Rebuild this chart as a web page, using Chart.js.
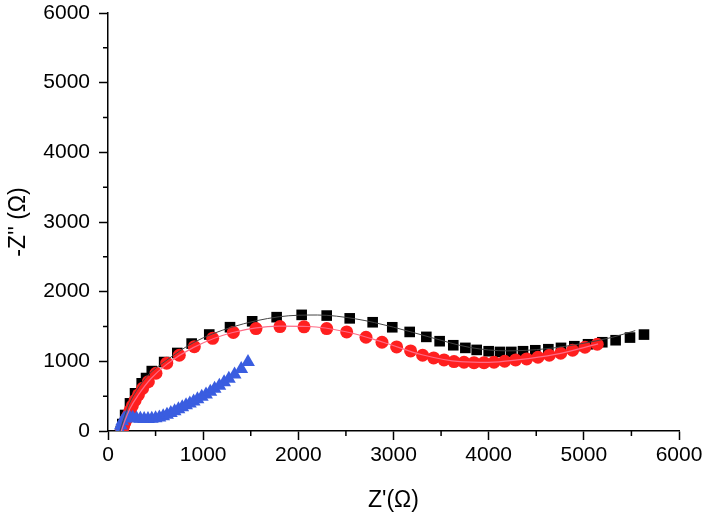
<!DOCTYPE html>
<html>
<head>
<meta charset="utf-8">
<script src="https://cdn.jsdelivr.net/npm/chart.js@4.4.1/dist/chart.umd.min.js"></script>
<style>
  html, body { margin: 0; padding: 0; background: #fff; }
  #wrap { width: 708px; height: 515px; }
</style>
</head>
<body>
<div id="wrap"><canvas id="nyquist"></canvas></div>
<script>
// Messpunkte (Z', -Z'') der drei Proben
var blackX = [135, 150, 180, 231, 284, 354, 400, 460, 590, 728, 879, 1064, 1282, 1515, 1772, 2035, 2298, 2540, 2781, 2987, 3170, 3345, 3485, 3628, 3755, 3874, 4000, 4119, 4238, 4361, 4490, 4627, 4760, 4900, 5044, 5194, 5334, 5485, 5632],
    blackY = [0, 100, 230, 397, 541, 685, 760, 860, 990, 1120, 1255, 1385, 1490, 1575, 1634, 1667, 1657, 1617, 1561, 1489, 1422, 1351, 1289, 1231, 1193, 1164, 1145, 1135, 1135, 1145, 1159, 1174, 1193, 1217, 1245, 1274, 1303, 1341, 1384];

var redX = [145, 155, 165, 178, 192, 210, 230, 255, 285, 320, 364, 424, 504, 617, 749, 907, 1100, 1317, 1555, 1807, 2060, 2298, 2508, 2711, 2879, 3033, 3180, 3306, 3422, 3531, 3636, 3741, 3846, 3951, 4056, 4168, 4283, 4399, 4518, 4637, 4757, 4882, 5012, 5141],
    redY = [0, 40, 80, 125, 170, 220, 290, 360, 440, 520, 613, 708, 829, 973, 1087, 1211, 1330, 1415, 1470, 1499, 1495, 1470, 1422, 1346, 1274, 1207, 1149, 1087, 1049, 1020, 996, 987, 981, 981, 987, 1001, 1020, 1034, 1059, 1087, 1116, 1159, 1202, 1245];

var blueX = [125, 135, 150, 170, 195, 225, 260, 300, 340, 380, 420, 460, 500, 540, 580, 620, 660, 700, 740, 780, 820, 860, 900, 940, 985, 1030, 1075, 1120, 1170, 1220, 1270, 1330, 1400, 1471],
    blueY = [0, 80, 140, 180, 200, 200, 190, 180, 175, 172, 172, 175, 182, 195, 212, 235, 260, 285, 312, 340, 368, 396, 425, 455, 490, 525, 565, 605, 650, 700, 750, 810, 890, 991];

// Fit-Kurven (Ersatzschaltbild)
var blackFitX = [125, 160, 220, 300, 420, 600, 900, 1300, 1800, 2200, 2600, 3000, 3400, 3800, 4200, 4600, 5000, 5300, 5540],
    blackFitY = [0, 150, 380, 580, 800, 1000, 1270, 1490, 1640, 1665, 1610, 1490, 1340, 1200, 1150, 1180, 1260, 1345, 1441];
var redFitX = [140, 170, 230, 320, 450, 620, 900, 1300, 1800, 2100, 2500, 2900, 3300, 3700, 4000, 4300, 4700, 5150],
    redFitY = [0, 120, 320, 520, 750, 960, 1200, 1410, 1505, 1500, 1425, 1270, 1095, 995, 985, 1020, 1100, 1250];

var xTicks = [0, 1000, 2000, 3000, 4000, 5000, 6000],
    yTicks = [0, 1000, 2000, 3000, 4000, 5000, 6000];

function toPoints(xs, ys) {
    var pts = [];
    for (let i = 0; i < xs.length; i++) {
        pts.push({x: xs[i], y: ys[i]});
    }
    return pts;
}

// Kleine Zwischenstriche bei 500, 1500, ... nach außen
var minorTicks = {
    id: "minorTicks",
    afterDraw(chart) {
        var ctx = chart.ctx,
            xs = chart.scales.x,
            ys = chart.scales.y;
        ctx.save();
        ctx.strokeStyle = "#000";
        ctx.lineWidth = 1.5;
        ctx.beginPath();
        for (let v = 500; v < 6000; v += 1000) {
            let px = xs.getPixelForValue(v),
                py = ys.getPixelForValue(v);
            ctx.moveTo(px, xs.top);
            ctx.lineTo(px, xs.top + 5);
            ctx.moveTo(ys.right, py);
            ctx.lineTo(ys.right - 5, py);
        }
        ctx.stroke();
        ctx.restore();
    }
};

var tickFont = {family: "'Liberation Sans', Arial, sans-serif", size: 21};
var titleFont = {family: "'Liberation Sans', Arial, sans-serif", size: 23};

new Chart(document.getElementById("nyquist"), {
    type: "scatter",
    data: {
        datasets: [
            {data: toPoints(blackFitX, blackFitY), showLine: true, borderColor: "#444", borderWidth: 1, pointRadius: 0, cubicInterpolationMode: "monotone", fill: false},
            {data: toPoints(redFitX, redFitY), showLine: true, borderColor: "#ff6a85", borderWidth: 1.2, pointRadius: 0, cubicInterpolationMode: "monotone", fill: false},
            {data: toPoints(blueX, blueY), pointStyle: "triangle", pointRadius: 8, backgroundColor: "#3a5de0", borderColor: "#3a5de0", borderWidth: 0},
            {data: toPoints(redX, redY), pointStyle: "circle", pointRadius: 6.5, backgroundColor: "#ff1f1f", borderColor: "#ff1f1f", borderWidth: 0},
            {data: toPoints(blackX, blackY), pointStyle: "rect", pointRadius: 7.5, backgroundColor: "#000", borderColor: "#000", borderWidth: 0}
        ]
    },
    options: {
        responsive: true,
        maintainAspectRatio: false,
        animation: false,
        layout: {padding: {top: 13, right: 29, left: 0, bottom: 0}},
        plugins: {legend: {display: false}, tooltip: {enabled: false}},
        scales: {
            x: {
                type: "linear",
                min: 0,
                max: 6000,
                afterFit: (s) => { s.height = 84; s.paddingLeft = 0; s.paddingRight = 0; },
                afterBuildTicks: (s) => { s.ticks = xTicks.map((v) => ({value: v})); },
                border: {display: true, color: "#000", width: 1.5},
                grid: {display: true, drawOnChartArea: false, drawTicks: true, tickLength: 9, tickColor: "#000", tickWidth: 1.5},
                ticks: {color: "#000", font: tickFont, padding: 3, maxRotation: 0, callback: (v) => String(v)},
                title: {display: true, text: "Z'(Ω)", color: "#000", font: titleFont, padding: {top: 0, bottom: 1}}
            },
            y: {
                type: "linear",
                min: 0,
                max: 6000,
                afterFit: (s) => { s.width = 108; s.paddingTop = 0; s.paddingBottom = 0; },
                afterBuildTicks: (s) => { s.ticks = yTicks.map((v) => ({value: v})); },
                border: {display: true, color: "#000", width: 1.5},
                grid: {display: true, drawOnChartArea: false, drawTicks: true, tickLength: 9, tickColor: "#000", tickWidth: 1.5},
                ticks: {color: "#000", font: tickFont, padding: 9, callback: (v) => String(v)},
                title: {display: true, text: "-Z'' (Ω)", color: "#000", font: titleFont, padding: {top: 5, bottom: 0}}
            }
        }
    },
    plugins: [minorTicks]
});
</script>
</body>
</html>
